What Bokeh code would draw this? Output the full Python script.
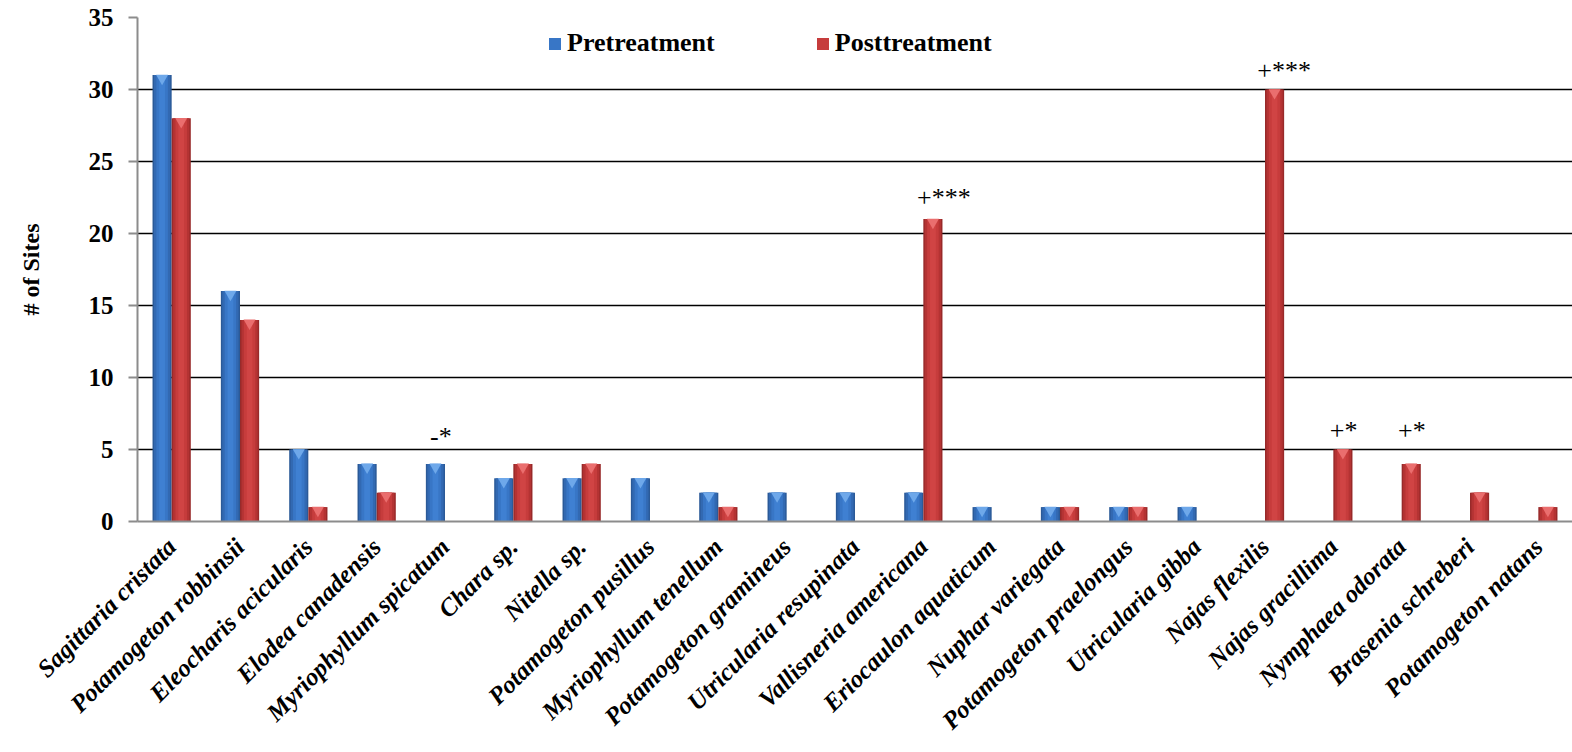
import math
from bokeh.plotting import figure
from bokeh.models import ColumnDataSource, FactorRange, Range1d, Legend, LegendItem, SingleIntervalTicker
from bokeh.transform import dodge
from bokeh.core.properties import value
from bokeh.embed import file_html
from bokeh.resources import INLINE

species = [
    "Sagittaria cristata", "Potamogeton robbinsii", "Eleocharis acicularis",
    "Elodea canadensis", "Myriophyllum spicatum", "Chara sp.", "Nitella sp.",
    "Potamogeton pusillus", "Myriophyllum tenellum", "Potamogeton gramineus",
    "Utricularia resupinata", "Vallisneria americana", "Eriocaulon aquaticum",
    "Nuphar variegata", "Potamogeton praelongus", "Utricularia gibba",
    "Najas flexilis", "Najas gracillima", "Nymphaea odorata",
    "Brasenia schreberi", "Potamogeton natans",
]
pretreatment = [31, 16, 5, 4, 4, 3, 3, 3, 2, 2, 2, 2, 1, 1, 1, 1, 0, 0, 0, 0, 0]
posttreatment = [28, 14, 1, 2, 0, 4, 4, 0, 1, 0, 0, 21, 0, 1, 1, 0, 30, 5, 4, 2, 1]

ann_species = ["Myriophyllum spicatum", "Vallisneria americana", "Najas flexilis",
               "Najas gracillima", "Nymphaea odorata"]
ann_labels = ["-*", "+***", "+***", "+*", "+*"]
ann_y = [5.9, 22.5, 31.3, 6.3, 6.3]
ann_dx = [-0.06, 0.30, 0.28, 0.15, 0.15]

SERIF = "Liberation Serif"
BW = 0.28

p = figure(width=1572, height=752, x_range=FactorRange(*species),
           y_range=Range1d(0, 35), output_backend="svg", toolbar_location=None,
           min_border_left=137, min_border_right=0, min_border_top=17,
           min_border_bottom=231)
p.outline_line_color = None
p.background_fill_color = "white"
p.border_fill_color = "white"

src = ColumnDataSource(dict(sp=species, pre=pretreatment, post=posttreatment))

def layered(col, off, colors, widths):
    rs = []
    for c, w in zip(colors, widths):
        r = p.vbar(x=dodge("sp", off, range=p.x_range), top=col, width=w,
                   source=src, fill_color=c, line_color=None)
        rs.append(r)
    return rs

blue_r = layered("pre", -BW / 2, ["#2b5a98", "#3269b2", "#3876c6", "#3f80d2"],
                 [BW, BW * 0.85, BW * 0.6, BW * 0.3])
red_r = layered("post", BW / 2, ["#982a2a", "#b43333", "#c63c3c", "#d04444"],
                [BW, BW * 0.85, BW * 0.6, BW * 0.3])

# top bevel highlights
pre_nz = [(s, v) for s, v in zip(species, pretreatment) if v > 0]
post_nz = [(s, v) for s, v in zip(species, posttreatment) if v > 0]
bsrc = ColumnDataSource(dict(sp=[a for a, _ in pre_nz], v=[b - 0.22 for _, b in pre_nz]))
rsrc = ColumnDataSource(dict(sp=[a for a, _ in post_nz], v=[b - 0.22 for _, b in post_nz]))
p.scatter(x=dodge("sp", -BW / 2, range=p.x_range), y="v", source=bsrc,
          marker="inverted_triangle", size=12, fill_color="#6ea8ea", line_color=None)
p.scatter(x=dodge("sp", BW / 2, range=p.x_range), y="v", source=rsrc,
          marker="inverted_triangle", size=12, fill_color="#ea6e6e", line_color=None)

# annotations
for s, yv, t, dx in zip(ann_species, ann_y, ann_labels, ann_dx):
    p.text(x=dodge("sp", dx, range=p.x_range), y="y", text="t",
           source=ColumnDataSource(dict(sp=[s], y=[yv], t=[t])),
           text_font=value(SERIF), text_font_size="26px", text_align="center",
           text_baseline="middle", text_color="black")

# axes
p.xgrid.grid_line_color = None
p.ygrid.grid_line_color = "black"
p.ygrid.grid_line_width = 1.6
p.yaxis.ticker = SingleIntervalTicker(interval=5)
p.yaxis.axis_line_color = "#8c8c8c"
p.yaxis.axis_line_width = 2
p.yaxis.major_tick_line_color = "#8c8c8c"
p.yaxis.major_tick_line_width = 2
p.yaxis.major_tick_out = 9
p.yaxis.major_tick_in = 0
p.yaxis.minor_tick_line_color = None
p.yaxis.major_label_text_font = SERIF
p.yaxis.major_label_text_font_style = "bold"
p.yaxis.major_label_text_font_size = "25px"
p.yaxis.major_label_text_color = "black"
p.yaxis.major_label_standoff = 15
p.yaxis.axis_label = "# of Sites"
p.yaxis.axis_label_text_font = SERIF
p.yaxis.axis_label_text_font_style = "bold"
p.yaxis.axis_label_text_font_size = "24px"
p.yaxis.axis_label_text_color = "black"
p.yaxis.axis_label_standoff = 42

p.xaxis.axis_line_color = "#8c8c8c"
p.xaxis.axis_line_width = 2
p.xaxis.major_tick_line_color = None
p.xaxis.minor_tick_line_color = None
p.xaxis.major_label_orientation = math.pi / 4
p.xaxis.major_label_text_font = SERIF
p.xaxis.major_label_text_font_style = "bold italic"
p.xaxis.major_label_text_font_size = "25px"
p.xaxis.major_label_text_color = "black"
p.xaxis.major_label_standoff = 15
p.x_range.range_padding = 0
p.x_range.group_padding = 0

legend = Legend(items=[LegendItem(label="Pretreatment", renderers=[blue_r[2]]),
                       LegendItem(label="Posttreatment", renderers=[red_r[2]])],
                orientation="horizontal", location=(410, 463),
                label_text_font=SERIF, label_text_font_style="bold",
                label_text_font_size="26px", label_text_color="black",
                glyph_width=15, glyph_height=15, label_standoff=5, spacing=100,
                padding=0, margin=0, border_line_color=None,
                background_fill_alpha=0)
p.add_layout(legend)

open("out.html", "w").write(file_html(p, INLINE))
